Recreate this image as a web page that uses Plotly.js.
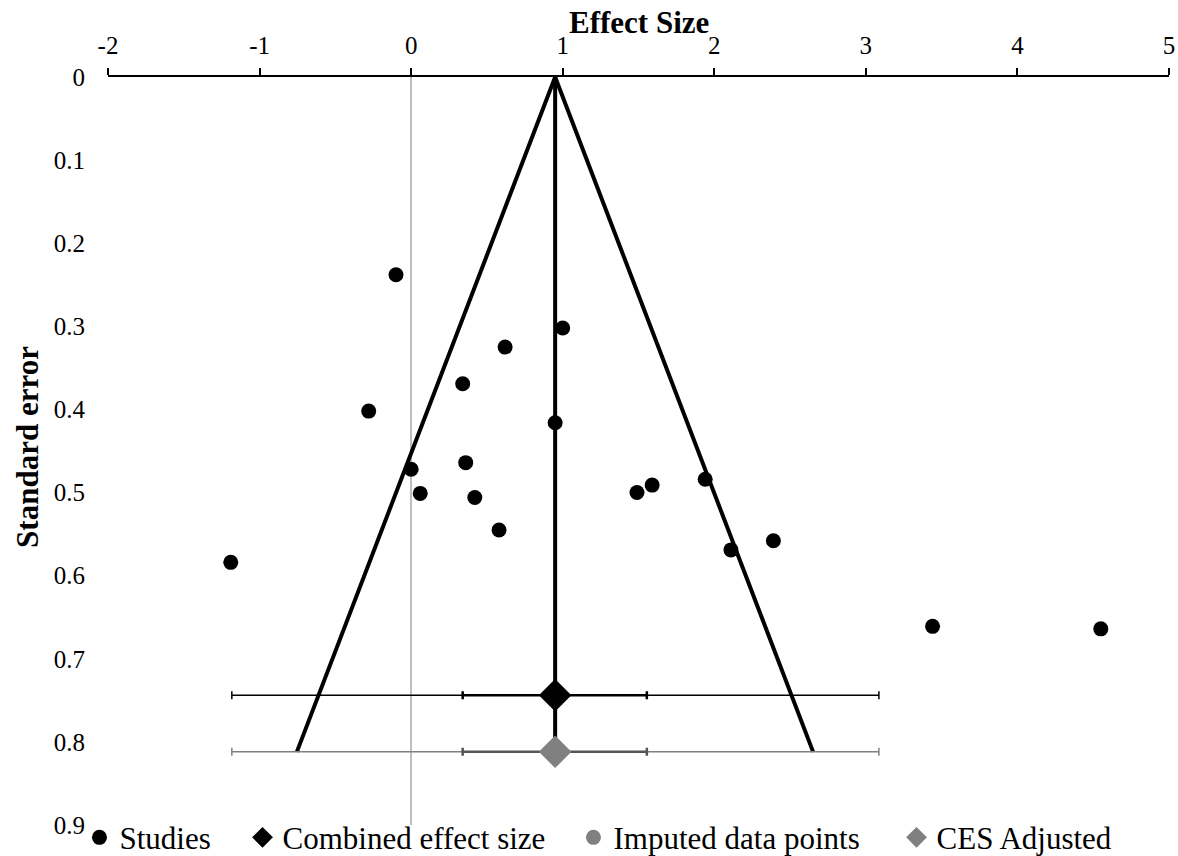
<!DOCTYPE html>
<html>
<head>
<meta charset="utf-8">
<script src="https://cdn.plot.ly/plotly-3.0.1.min.js"></script>
<style>html,body{margin:0;padding:0;background:#fff;}#chart{width:1178px;height:856px;}</style>
</head>
<body>
<div id="chart"></div>
<script>
// Individual studies (effect size, standard error)
const studyES = [-0.10, 1.00, 0.62, 0.34, -0.28, 0.95, 0.36, 0.00, 0.06, 0.42, 1.49, 1.59, 1.94, 0.58, -1.19, 2.11, 2.39, 3.44, 4.55];
const studySE = [0.238, 0.302, 0.325, 0.369, 0.402, 0.416, 0.464, 0.472, 0.501, 0.506, 0.500, 0.491, 0.484, 0.545, 0.584, 0.569, 0.558, 0.661, 0.664];

// Imputed data points (none drawn in this plot; legend entry only)
const imputedES = [null];
const imputedSE = [null];

// Combined effect size and its intervals
const combinedES = 0.95;
const combinedSE = 0.744;
const combinedCI = [0.34, 1.555];
const combinedPI = [-1.183, 3.086];

// Adjusted combined effect size (trim and fill)
const adjustedES = 0.95;
const adjustedSE = 0.812;
const adjustedCI = [0.34, 1.555];
const adjustedPI = [-1.183, 3.086];

// Funnel (pseudo-confidence region)
const funnelX = [-0.754, 0.95, 2.652];
const funnelY = [0.812, 0, 0.812];
const centerX = [0.95, 0.95];
const centerY = [0, 0.812];

// Axis ticks
const xTicks = [-2, -1, 0, 1, 2, 3, 4, 5];
const yTicks = [0, 0.1, 0.2, 0.3, 0.4, 0.5, 0.6, 0.7, 0.8, 0.9];
const yTickText = ['0', '0.1', '0.2', '0.3', '0.4', '0.5', '0.6', '0.7', '0.8', '0.9'];

const FONT = '"Liberation Serif", "Times New Roman", serif';
const GRAY = '#808080';

function errBar(center, lo, hi, color, thick) {
  return {type: 'data', symmetric: false, array: [hi - center], arrayminus: [center - lo],
          color: color, thickness: thick, width: 4};
}

const traces = [
  {x: funnelX, y: funnelY, mode: 'lines', line: {color: '#000', width: 4}, showlegend: false, hoverinfo: 'skip'},
  {x: centerX, y: centerY, mode: 'lines', line: {color: '#000', width: 4}, showlegend: false, hoverinfo: 'skip'},
  // prediction interval bars (thin)
  {x: [combinedES], y: [combinedSE], mode: 'markers', marker: {size: 1, opacity: 0}, showlegend: false,
   error_x: errBar(combinedES, combinedPI[0], combinedPI[1], '#000', 1.5), hoverinfo: 'skip'},
  {x: [adjustedES], y: [adjustedSE], mode: 'markers', marker: {size: 1, opacity: 0}, showlegend: false,
   error_x: errBar(adjustedES, adjustedPI[0], adjustedPI[1], GRAY, 1.5), hoverinfo: 'skip'},
  // confidence interval bars (thicker)
  {x: [combinedES], y: [combinedSE], mode: 'markers', marker: {size: 1, opacity: 0}, showlegend: false,
   error_x: errBar(combinedES, combinedCI[0], combinedCI[1], '#000', 2.5), hoverinfo: 'skip'},
  {x: [adjustedES], y: [adjustedSE], mode: 'markers', marker: {size: 1, opacity: 0}, showlegend: false,
   error_x: errBar(adjustedES, adjustedCI[0], adjustedCI[1], '#555', 2.5), hoverinfo: 'skip'},
  // diamonds
  {x: [combinedES], y: [combinedSE], mode: 'markers', name: 'Combined effect size', legend: 'legend2',
   marker: {symbol: 'diamond', size: 25, color: '#000'}},
  {x: [adjustedES], y: [adjustedSE], mode: 'markers', name: 'CES Adjusted', legend: 'legend4',
   marker: {symbol: 'diamond', size: 25, color: GRAY}},
  {x: imputedES, y: imputedSE, mode: 'markers', name: 'Imputed data points', legend: 'legend3',
   marker: {symbol: 'circle', size: 15, color: GRAY}},
  {x: studyES, y: studySE, mode: 'markers', name: 'Studies', legend: 'legend',
   marker: {symbol: 'circle', size: 15, color: '#000'}}
];

function legendAt(x) {
  return {orientation: 'h', x: x, xanchor: 'left', y: -0.017, yanchor: 'middle',
          font: {family: FONT, size: 31, color: '#000'}, bgcolor: 'rgba(0,0,0,0)'};
}

const layout = {
  width: 1178, height: 856,
  margin: {l: 108, r: 9, t: 77, b: 31, autoexpand: false},
  paper_bgcolor: '#fff', plot_bgcolor: '#fff',
  font: {family: FONT, color: '#000', size: 25},
  showlegend: true,
  xaxis: {
    range: [-2, 5], side: 'top', tickvals: xTicks, ticktext: xTicks.map(String),
    showgrid: false, zeroline: true, zerolinecolor: '#bfbfbf', zerolinewidth: 1.5,
    showline: true, linecolor: '#000', linewidth: 2,
    ticks: 'outside', ticklen: 7, tickwidth: 2, tickcolor: '#000',
    ticklabelstandoff: 4,
    tickfont: {family: FONT, size: 25, color: '#000'}, fixedrange: true
  },
  yaxis: {
    range: [0.9, 0], tickvals: yTicks, ticktext: yTickText,
    showgrid: false, zeroline: false, showline: false, ticks: '',
    ticklabelstandoff: 22,
    tickfont: {family: FONT, size: 25, color: '#000'}, fixedrange: true
  },
  legend: legendAt(-0.0269),
  legend2: legendAt(0.1268),
  legend3: legendAt(0.4387),
  legend4: legendAt(0.7432),
  annotations: [
    {text: '<b>Effect Size</b>', xref: 'paper', yref: 'paper', x: 0.5, y: 1, xanchor: 'center', yanchor: 'middle',
     yshift: 55, showarrow: false, font: {family: FONT, size: 31, color: '#000'}},
    {text: '<b>Standard error</b>', xref: 'paper', yref: 'paper', x: -0.0754, y: 0.5055, xanchor: 'center', yanchor: 'middle',
     textangle: -90, showarrow: false, font: {family: FONT, size: 31, color: '#000'}}
  ]
};

Plotly.newPlot('chart', traces, layout, {displayModeBar: false, staticPlot: true});
</script>
</body>
</html>
